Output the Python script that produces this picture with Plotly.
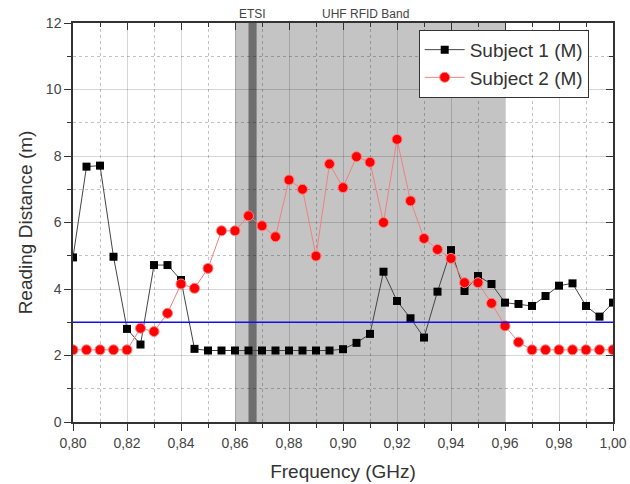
import plotly.graph_objects as go

freq = [round(0.80 + 0.005 * i, 3) for i in range(41)]

subject1 = [4.95, 7.68, 7.71, 4.97, 2.80, 2.33, 4.72, 4.72, 4.27, 2.20,
            2.15, 2.15, 2.15, 2.15, 2.15, 2.15, 2.15, 2.15, 2.15, 2.15,
            2.19, 2.38, 2.65, 4.52, 3.64, 3.12, 2.54, 3.92, 5.17, 3.94,
            4.39, 4.15, 3.59, 3.55, 3.49, 3.79, 4.10, 4.17, 3.49, 3.17,
            3.59]

subject2 = [2.17, 2.17, 2.17, 2.17, 2.17, 2.82, 2.72, 3.27, 4.15, 4.02,
            4.62, 5.75, 5.75, 6.20, 5.90, 5.57, 7.28, 7.00, 4.99, 7.76,
            7.05, 7.98, 7.81, 6.00, 8.50, 6.65, 5.52, 5.19, 4.92, 4.19,
            4.19, 3.57, 2.89, 2.40, 2.17, 2.17, 2.17, 2.17, 2.17, 2.17,
            2.17]

threshold = 3.0
uhf_band = (0.86, 0.96)
etsi_band = (0.865, 0.868)
x_range = [0.80, 1.00]
y_range = [0, 12]

FONT = "Liberation Sans, Arial, sans-serif"
AX = "#333333"
GRID = "rgba(0,0,0,0.16)"
MGRID = "rgba(0,0,0,0.24)"

fig = go.Figure()

fig.add_trace(go.Scatter(
    x=freq, y=subject1, name="Subject 1 (M)", mode="lines+markers",
    line=dict(color="#444444", width=1),
    marker=dict(symbol="square", size=8, color="black"),
))
fig.add_trace(go.Scatter(
    x=freq, y=subject2, name="Subject 2 (M)", mode="lines+markers",
    line=dict(color="#f08080", width=1),
    marker=dict(symbol="circle", size=10, color="#ff0000",
                line=dict(color="#ff8080", width=1)),
))
# empty trace so the mirrored top/right tick axes are drawn
fig.add_trace(go.Scatter(x=[], y=[], xaxis="x2", yaxis="y2",
                         showlegend=False, hoverinfo="skip"))

fig.add_vrect(x0=uhf_band[0], x1=uhf_band[1], fillcolor="#c4c4c4",
              line_width=0, layer="below", opacity=1)
fig.add_vrect(x0=etsi_band[0], x1=etsi_band[1], fillcolor="#6e6e6e",
              line_width=0, layer="below", opacity=1)
fig.add_hline(y=threshold, line=dict(color="#1010ee", width=1.5))

fig.add_annotation(x=0.8663, y=1.0, xref="x", yref="paper", text="ETSI",
                   showarrow=False, yanchor="bottom", yshift=0,
                   font=dict(size=12, color="#444444", family=FONT))
fig.add_annotation(x=0.9085, y=1.0, xref="x", yref="paper", text="UHF RFID Band",
                   showarrow=False, yanchor="bottom", yshift=0,
                   font=dict(size=12, color="#444444", family=FONT))

tickfont = dict(size=14, color="#444444", family=FONT)

fig.update_layout(
    xaxis=dict(
        range=x_range, dtick=0.02, tick0=0.80, tickformat=".2f", automargin=False,
        showline=True, linecolor=AX, linewidth=1.5, mirror=True,
        ticks="outside", ticklen=7, tickcolor=AX, tickwidth=1,
        showgrid=True, gridcolor=GRID, gridwidth=1, zeroline=False,
        minor=dict(dtick=0.01, ticks="outside", ticklen=4, tickcolor=AX,
                   showgrid=True, gridcolor=MGRID, griddash="dot"),
        tickfont=tickfont,
        title=dict(text="Frequency (GHz)", font=dict(size=19, color="#333333", family=FONT),
                   standoff=15),
    ),
    yaxis=dict(
        range=y_range, dtick=2, tick0=0, automargin=False,
        showline=True, linecolor=AX, linewidth=1.5, mirror=True,
        ticks="outside", ticklen=7, tickcolor=AX, tickwidth=1,
        showgrid=True, gridcolor=GRID, gridwidth=1, zeroline=False,
        minor=dict(dtick=1, ticks="outside", ticklen=4, tickcolor=AX,
                   showgrid=True, gridcolor=MGRID, griddash="dot"),
        tickfont=tickfont,
        title=dict(text="Reading Distance (m)", font=dict(size=19, color="#333333", family=FONT),
                   standoff=8),
    ),
    xaxis2=dict(
        overlaying="x", side="top", range=x_range, dtick=0.02, tick0=0.80,
        automargin=False,
        showline=False, showgrid=False, zeroline=False, showticklabels=False,
        ticks="inside", ticklen=7, tickcolor=AX,
        minor=dict(dtick=0.01, ticks="inside", ticklen=4, tickcolor=AX, showgrid=False),
    ),
    yaxis2=dict(
        overlaying="y", side="right", range=y_range, dtick=2, tick0=0,
        automargin=False,
        showline=False, showgrid=False, zeroline=False, showticklabels=False,
        ticks="inside", ticklen=7, tickcolor=AX,
        minor=dict(dtick=1, ticks="inside", ticklen=4, tickcolor=AX, showgrid=False),
    ),
    width=630, height=484,
    margin=dict(l=73, r=17, t=23, b=62, autoexpand=False),
    paper_bgcolor="white", plot_bgcolor="white",
    separators=",.",
    font=dict(family=FONT, color="#333333"),
    legend=dict(x=0.955, y=0.983, xanchor="right", yanchor="top",
                bgcolor="white", bordercolor="#333333", borderwidth=1,
                font=dict(size=19, color="#333333", family=FONT),
                tracegroupgap=0, itemwidth=40),
    showlegend=True,
)

fig.write_html("out.html", config={"displayModeBar": False},
               post_script="document.body.style.margin='0';document.body.style.padding='0';")
